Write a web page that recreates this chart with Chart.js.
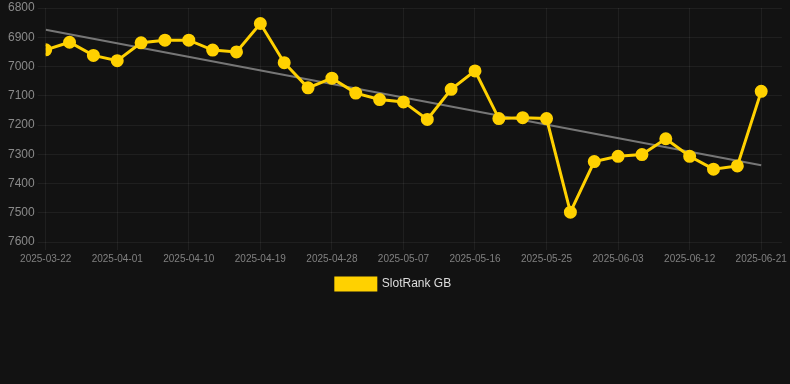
<!DOCTYPE html>
<html>
<head>
<meta charset="utf-8">
<script src="https://cdn.jsdelivr.net/npm/chart.js@4/dist/chart.umd.min.js"></script>
<style>
  html, body { margin: 0; padding: 0; background: #121212; }
  #wrap { position: relative; width: 790px; height: 300px; }
</style>
</head>
<body>
<div id="wrap"><canvas id="c"></canvas></div>
<script>
const dates = [
  '2025-03-22','2025-03-25','2025-03-28','2025-03-31','2025-04-03','2025-04-06','2025-04-09',
  '2025-04-12','2025-04-15','2025-04-18','2025-04-21','2025-04-24','2025-04-27','2025-04-30',
  '2025-05-03','2025-05-06','2025-05-09','2025-05-12','2025-05-15','2025-05-18','2025-05-21',
  '2025-05-24','2025-05-27','2025-05-30','2025-06-02','2025-06-05','2025-06-08','2025-06-11',
  '2025-06-14','2025-06-17','2025-06-20'
];
const ranks = [
  6943, 6917, 6962, 6980, 6919, 6910, 6910,
  6944, 6950, 6853, 6987, 7073, 7040, 7091,
  7113, 7121, 7181, 7078, 7015, 7178, 7175,
  7178, 7498, 7325, 7307, 7301, 7247, 7307,
  7351, 7340, 7085
];
const tickDates = [
  '2025-03-22','2025-03-31','2025-04-09','2025-04-18','2025-04-27','2025-05-06',
  '2025-05-15','2025-05-24','2025-06-02','2025-06-11','2025-06-20'
];
const tickLabels = [
  '2025-03-22','2025-04-01','2025-04-10','2025-04-19','2025-04-28','2025-05-07',
  '2025-05-16','2025-05-25','2025-06-03','2025-06-12','2025-06-21'
];
const seriesName = 'SlotRank GB';
const yMin = 6800, yMax = 7600, yStep = 100;
const xEndPadDays = 2.6;

const DAY = 86400000;
const t0 = Date.parse(dates[0]);
const dayOf = d => (Date.parse(d) - t0) / DAY;

const points = dates.map((d, i) => ({ x: dayOf(d), y: ranks[i] }));

// least-squares trend line
const n = points.length;
const mx = points.reduce((s, p) => s + p.x, 0) / n;
const my = points.reduce((s, p) => s + p.y, 0) / n;
let num = 0, den = 0;
points.forEach(p => { num += (p.x - mx) * (p.y - my); den += (p.x - mx) ** 2; });
const slope = num / den, icpt = my - slope * mx;
const xFirst = points[0].x, xLast = points[n - 1].x;
const trend = [{ x: xFirst, y: icpt + slope * xFirst }, { x: xLast, y: icpt + slope * xLast }];

const tickVals = tickDates.map(dayOf);
const labelFor = {};
tickVals.forEach((v, i) => labelFor[v] = tickLabels[i]);

const YELLOW = '#FFD100';
Chart.defaults.font.family = '"Liberation Sans", Arial, Helvetica, sans-serif';

new Chart(document.getElementById('c'), {
  type: 'line',
  data: {
    datasets: [
      {
        label: seriesName,
        data: points,
        borderColor: YELLOW,
        backgroundColor: YELLOW,
        borderWidth: 3,
        pointRadius: 5,
        pointHoverRadius: 5,
        pointBackgroundColor: YELLOW,
        pointBorderColor: YELLOW,
        tension: 0,
        order: 1
      },
      {
        label: 'trend',
        data: trend,
        borderColor: 'rgba(130,130,130,0.9)',
        borderWidth: 2,
        pointRadius: 0,
        fill: false,
        order: 2
      }
    ]
  },
  options: {
    responsive: true,
    maintainAspectRatio: false,
    animation: false,
    layout: { padding: { left: 5, right: 8, top: 0, bottom: 0 } },
    plugins: {
      legend: {
        position: 'bottom',
        labels: {
          color: '#dddddd',
          font: { size: 12 },
          boxWidth: 40,
          boxHeight: 12,
          filter: item => item.text === seriesName
        }
      },
      tooltip: { enabled: false }
    },
    scales: {
      x: {
        type: 'linear',
        min: 0,
        max: dayOf(dates[n - 1]) + xEndPadDays,
        afterBuildTicks: scale => { scale.ticks = tickVals.map(v => ({ value: v })); },
        ticks: {
          autoSkip: false,
          maxRotation: 0,
          color: '#808080',
          font: { size: 10 },
          callback: v => labelFor[v] || ''
        },
        grid: { color: 'rgba(255,255,255,0.06)', tickLength: 8 },
        border: { display: false }
      },
      y: {
        reverse: true,
        min: yMin,
        max: yMax,
        ticks: { stepSize: yStep, padding: 3, color: '#8a8a8a', font: { size: 12, lineHeight: 0.4 }, callback: v => String(v) },
        grid: { color: 'rgba(255,255,255,0.06)', tickLength: 8 },
        border: { display: false }
      }
    }
  }
});
</script>
</body>
</html>
